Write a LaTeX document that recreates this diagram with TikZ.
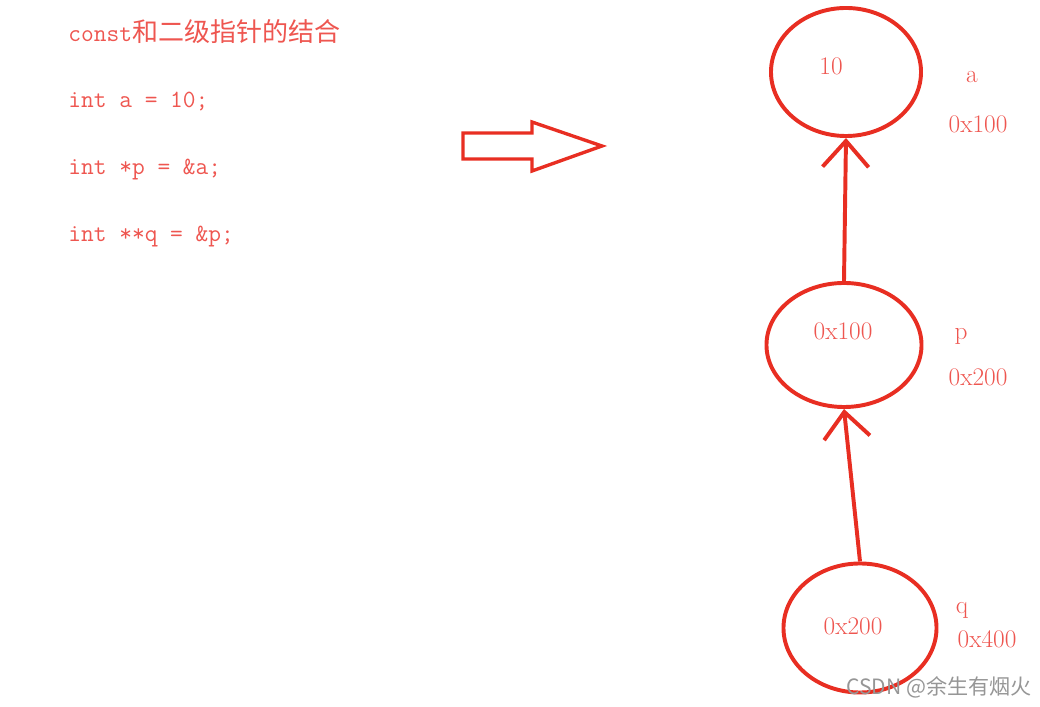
\documentclass[tikz,border=0pt]{standalone}
\usepackage{fontspec}
\usepackage{tikz}
\usetikzlibrary{arrows.meta,positioning,shapes.geometric}
\newfontfamily\cjk{Noto Sans CJK SC}
\definecolor{penred}{RGB}{232,46,34}
\definecolor{inkred}{RGB}{238,86,80}
\definecolor{markgray}{RGB}{150,150,150}
\tikzset{
  cell/.style={ellipse,draw=penred,line width=2.8pt,inner sep=0pt},
  codeline/.style={anchor=base west,inner sep=0pt,text=inkred,
    font=\fontsize{17.6}{20}\selectfont\ttfamily},
  valtext/.style={anchor=base,inner sep=0pt,text=inkred,
    font=\fontsize{18}{20}\selectfont},
  pointsto/.style={-{Straight Barb[length=6.5mm,width=11.5mm]},line width=2.8pt,draw=penred},
  blockarrow/.style={draw=penred,line width=2.4pt,line join=miter},
}

\begin{document}
\begin{tikzpicture}[x=0.025cm,y=-0.025cm]
    \useasboundingbox (0,0) rectangle (1040,707);
    % code on the left
    \node[codeline] (title) at (68,42) {const{\cjk\fontsize{18.5}{20}\selectfont 和二级指针的结合}};
    \node[codeline] (line1) at (68,108) {int a = 10;};
    \node[codeline] (line2) at (68,175) {int *p = \&a;};
    \node[codeline] (line3) at (68,242) {int **q = \&p;};
    % hollow arrow
    \draw[blockarrow] (463,133) -- (532,133) -- (532,122) -- (602,146)
      -- (532,171) -- (532,159) -- (463,159) -- cycle;
    % memory cells
    \node[cell,minimum width=3.75cm,minimum height=3.2cm] (va) at (846,72) {};
    \node[cell,minimum width=3.875cm,minimum height=3.1cm] (vp) at (844,345) {};
    \node[cell,minimum width=3.825cm,minimum height=3.225cm] (vq) at (860,628) {};
    \node[valtext] (va-val) at (831,75) {10};
    \node[valtext] (vp-val) at (843,340) {0x100};
    \node[valtext] (vq-val) at (853,634) {0x200};
    % names and addresses
    \node[valtext] (va-name) at (972,83) {a};
    \node[valtext] (va-addr) at (978,133) {0x100};
    \node[valtext] (vp-name) at (961,340) {p};
    \node[valtext] (vp-addr) at (978,386) {0x200};
    \node[valtext] (vq-name) at (962,614) {q};
    \node[valtext] (vq-addr) at (987,648) {0x400};
    \draw[pointsto] (vp.north) -- (va.south);
    \draw[pointsto] (vq.north) -- (vp.south);
    \node[anchor=base,inner sep=0pt,text=markgray,font=\cjk\fontsize{15}{18}\selectfont]
      (mark) at (939,695) {CSDN @余生有烟火};
\end{tikzpicture}
\end{document}
